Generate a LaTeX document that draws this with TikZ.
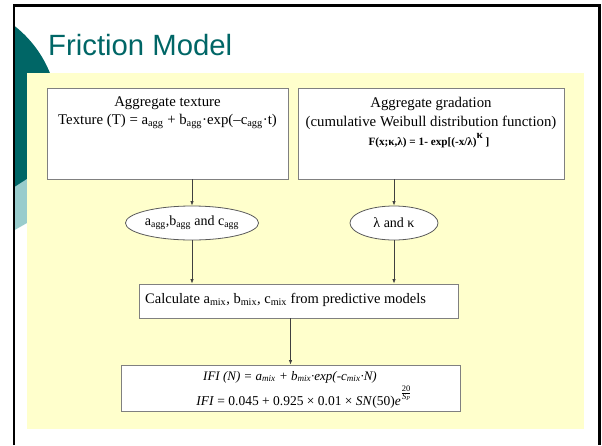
\documentclass[tikz,border=0pt]{standalone}
\usepackage{fontspec}
\setmainfont{Liberation Serif}
\newfontfamily\titlefont{Liberation Sans}
\usetikzlibrary{shapes.geometric,arrows.meta}

\begin{document}
\begin{tikzpicture}[x=1pt,y=-1pt,
        caja/.style={draw=gris,fill=white,inner sep=0pt,line width=0.8pt},
        ovalo/.style={ellipse,draw=gris!70!black,fill=white,inner sep=0pt,line width=0.8pt,
            font=\fontsize{14}{16}\selectfont},
        texto/.style={inner sep=0pt,anchor=base,font=\fontsize{14.8}{17}\selectfont},
        flecha/.style={draw=gris!50!black,line width=0.8pt,-{Latex[length=4.5pt,width=3.5pt]}}]
        %colores
        \definecolor{verdeosc}{HTML}{006666}
        \definecolor{verdeclaro}{HTML}{99CCCC}
        \definecolor{fondo}{HTML}{FFFFCC}
        \definecolor{gris}{HTML}{808080}

        \useasboundingbox (0,0) rectangle (602,445);

        % Adorno de la esquina
        \begin{scope}
            \clip (13,5) rectangle (600,445);
            \fill[verdeosc] (-55,115) circle (113);
            \fill[verdeclaro] (13,188) -- (27,179) -- (27,223) -- (13,231) -- cycle;
        \end{scope}
        % Panel de fondo
        \fill[fondo] (27,73) rectangle (584,429);
        % Marco
        \draw[line width=2.2pt] (13.7,445) -- (13.7,5.5) -- (599.5,5.5) -- (599.5,445);

        % Titulo
        \node[anchor=base west,inner sep=0pt,text=verdeosc,font=\titlefont\fontsize{29.3}{32}\selectfont]
            (titulo) at (48,55) {Friction Model};

        % Cajas de entrada
        \node[caja,minimum width=241pt,minimum height=91pt] (textura) at (167.5,133.5) {};
        \node[texto] (textura1) at (167.5,106) {Aggregate texture};
        \node[texto] (textura2) at (167.5,124.5)
            {Texture (T) = a\textsubscript{agg} + b\textsubscript{agg}·exp(–c\textsubscript{agg}·t)};

        \node[caja,minimum width=266pt,minimum height=91pt] (gradacion) at (431,133.5) {};
        \node[texto] (gradacion1) at (431,107.5) {Aggregate gradation};
        \node[texto] (gradacion2) at (431,126) {(cumulative Weibull distribution function)};
        \node[texto,font=\fontsize{11.2}{13}\bfseries] (gradacion3) at (429,145.5)
            {F(x;κ,λ) = 1- exp[(-x/λ)\raisebox{7pt}{κ} ]};

        % Parametros
        \node[ovalo,minimum width=114pt,minimum height=34pt] (agg) at (192,223)
            {a\textsubscript{agg},b\textsubscript{agg} and c\textsubscript{agg}};
        \node[ovalo,minimum width=88pt,minimum height=34pt] (weibull) at (394,223) {λ and κ};

        % Modelos de la mezcla
        \node[caja,minimum width=319pt,minimum height=34pt] (calculo) at (298.5,301) {};
        \node[texto,anchor=base west,font=\fontsize{14.5}{17}\selectfont] (calculo1) at (145,303)
            {Calculate a\textsubscript{mix}, b\textsubscript{mix}, c\textsubscript{mix} from predictive models};

        \node[caja,minimum width=339pt,minimum height=46pt] (ifi) at (290.5,388) {};
        \node[texto,font=\fontsize{13}{15}\itshape] (ifi1) at (290,380)
            {IFI (N) = a\textsubscript{mix} + b\textsubscript{mix}·exp(-c\textsubscript{mix}·N)};
        \node[texto,font=\fontsize{13.5}{15}\selectfont] (ifi2) at (304,405)
            {\textit{IFI} = 0.045 + 0.925 × 0.01 × \textit{SN}(50)\textit{e}\raisebox{10pt}{\fontsize{8.5}{9}\selectfont
            $\frac{\hbox{20}}{\hbox{\textit{S}\textsubscript{\textit{P}}}}$}};

        % Flechas
        \draw[flecha] (textura.south -| agg) -- (agg.north);
        \draw[flecha] (gradacion.south -| weibull) -- (weibull.north);
        \draw[flecha] (agg.south) -- (agg |- calculo.north);
        \draw[flecha] (weibull.south) -- (weibull |- calculo.north);
        \draw[flecha] (ifi.north |- calculo.south) -- (ifi.north);
    \end{tikzpicture}
\end{document}
